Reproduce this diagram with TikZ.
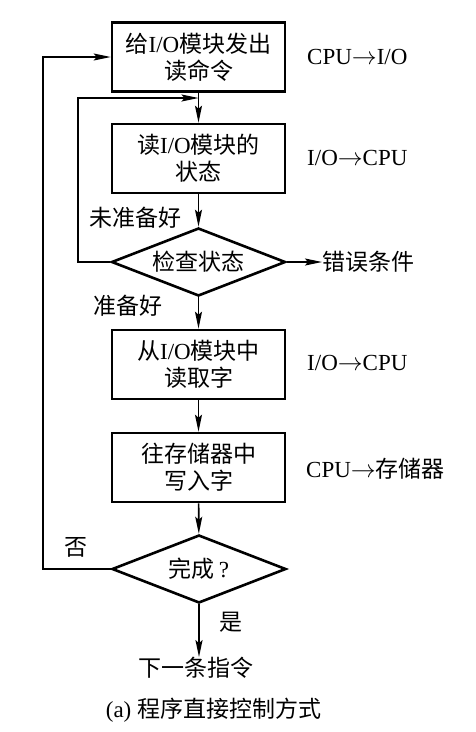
\documentclass[tikz,border=0pt]{standalone}
\usepackage{fontspec}
\setmainfont{Liberation Serif}
\newfontfamily\cjk{Noto Sans CJK SC}
\usetikzlibrary{arrows.meta,shapes.geometric}
\newcommand{\myto}{$\rightarrow$}
\tikzset{
  box/.style={draw,line width=2.6pt,minimum width=173pt,minimum height=69pt,inner sep=0pt,align=center,font=\fontsize{23}{27}\selectfont},
  dia/.style={draw,diamond,aspect=2.56,line width=2.6pt,minimum width=174pt,minimum height=68pt,inner sep=0pt,align=center,font=\fontsize{23}{27}\selectfont},
  lbl/.style={inner sep=0pt,font=\fontsize{23}{27}\selectfont},
  arr/.style={line width=1.6pt,-{Stealth[length=17pt,width=7pt,inset=3pt]}}
}
\begin{document}
\begin{tikzpicture}[x=1pt,y=-1pt]
\useasboundingbox (0,0) rectangle (476,732);
\node[box] (b1) at (198.5,57) {{\cjk 给}I/O{\cjk 模块发出}\\{\cjk 读命令}};
\node[box] (b2) at (198.5,158.5) {{\cjk 读}I/O{\cjk 模块的}\\{\cjk 状态}};
\node[dia] (d1) at (198.5,262) {{\cjk 检查状态}};
\node[box] (b3) at (198.5,364.5) {{\cjk 从}I/O{\cjk 模块中}\\{\cjk 读取字}};
\node[box] (b4) at (198.5,467.5) {{\cjk 往存储器中}\\{\cjk 写入字}};
\node[dia] (d2) at (199,569) {{\cjk 完成}\,?};
\node[lbl] (nx) at (196,668) {{\cjk 下一条指令}};
\node[lbl] (cap) at (213.5,710) {(a) {\cjk 程序直接控制方式}};
\node[lbl,anchor=west] (l1) at (307,57) {CPU\myto I/O};
\node[lbl,anchor=west] (l2) at (307,158) {I/O\myto CPU};
\node[lbl,anchor=west] (l3) at (307,363) {I/O\myto CPU};
\node[lbl,anchor=west] (l4) at (306,469) {CPU\myto{\cjk 存储器}};
\node[lbl,anchor=west] (err) at (322,262) {{\cjk 错误条件}};
\node[lbl] (nr) at (135,218) {{\cjk 未准备好}};
\node[lbl] (rd) at (128,306) {{\cjk 准备好}};
\node[lbl] (no) at (76,547) {{\cjk 否}};
\node[lbl] (yes) at (231,622) {{\cjk 是}};
\coordinate (c1) at (78,98);
\coordinate (c2) at (43,57);
\draw[arr] (b1) -- (b2);
\draw[arr] (b2) -- (d1);
\draw[arr] (d1) -- (b3);
\draw[arr] (b3) -- (b4);
\draw[arr] (b4) -- (d2);
\draw[arr] (d2.south) -- (d2.south |- nx.north);
\draw[arr] (d1.east) -- (err.west);
\draw[arr] (d1.west) -| (c1) -- (c1 -| b1.south);
\draw[arr] (d2.west) -| (c2) -- (b1.west);
\end{tikzpicture}
\end{document}
